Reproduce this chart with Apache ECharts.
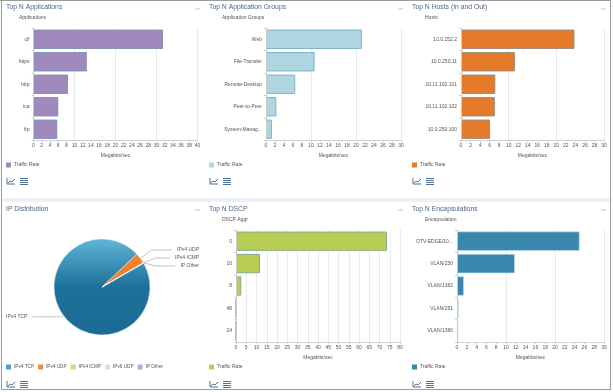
<!DOCTYPE html>
<html>
<head>
<meta charset="utf-8">
<title>Dashboard</title>
<script src="https://cdn.jsdelivr.net/npm/echarts@6/dist/echarts.min.js"></script>
<style>
  html, body { margin: 0; padding: 0; background: #fff; }
  #page { position: relative; width: 613px; height: 392px; overflow: hidden; background: #fff; }
  #page .panel { position: absolute; }
  .rule { position: absolute; background: #9b9b9b; }
  #strip { position: absolute; left: 2px; top: 198px; width: 608px; height: 4px; background: #edf2f6; }
</style>
</head>
<body>
<div id="page">
  <div id="strip"></div>
  <div class="panel" id="p1" style="left:2px;top:2px;width:203px;height:195px"></div>
  <div class="panel" id="p2" style="left:205px;top:2px;width:203px;height:195px"></div>
  <div class="panel" id="p3" style="left:408px;top:2px;width:202px;height:195px"></div>
  <div class="panel" id="p4" style="left:2px;top:203px;width:203px;height:186px"></div>
  <div class="panel" id="p5" style="left:205px;top:203px;width:203px;height:186px"></div>
  <div class="panel" id="p6" style="left:408px;top:203px;width:202px;height:186px"></div>
  <div class="rule" style="left:0;top:0;width:611px;height:1px"></div>
  <div class="rule" style="left:1px;top:0;width:1px;height:390px"></div>
  <div class="rule" style="left:610px;top:0;width:1px;height:390px"></div>
  <div class="rule" style="left:1px;top:389px;width:610px;height:1px"></div>
</div>
<script>
// values, Megabits/sec
var appNames = ['cif', 'https', 'http', 'ica', 'ftp'];
var appValues = [31.6, 13, 8.4, 6.05, 5.8];
var groupNames = ['Web', 'File-Transfer', 'Remote-Desktop', 'Peer-to-Peer', 'System-Manag...'];
var groupValues = [21.3, 10.8, 6.5, 2.3, 1.3];
var hostNames = ['10.0.252.2', '10.0.250.11', '10.11.102.101', '10.11.102.102', '10.0.250.100'];
var hostValues = [23.8, 11.3, 7.2, 7.1, 6.1];
var dscpNames = ['0', '16', '8', '48', '24'];
var dscpValues = [73.7, 11.7, 2.6, 0.05, 0.02];
var encapNames = ['OTV-EDGE/10...', 'VLAN/250', 'VLAN/1382', 'VLAN/251', 'VLAN/1380'];
var encapValues = [25, 11.8, 1.4, 0.3, 0.25];
var ipNames = ['IPv4 TCP', 'IPv4 UDP', 'IPv4 ICMP', 'IPv6 UDP', 'IP Other'];
var ipValues = [96.3, 3.6, 0.03, 0, 0.03];
var ipColors = ['#4fa3c7', '#f58a3c', '#c9dd72', '#dedede', '#b9a7d8'];

var FONT = '"Liberation Sans", Arial, sans-serif';
var TITLE_COLOR = '#4d6787';
var TEXT_COLOR = '#555';

// little line-chart and table icons under the legend, plus the minimize dash
function panelIcons(x, y, dashX) {
  var items = [
    { type: 'polyline', shape: { points: [[x, y], [x, y + 6], [x + 8, y + 6]] }, style: { stroke: '#52708f', fill: null } },
    { type: 'polyline', shape: { points: [[x + 1, y + 5], [x + 3, y + 3], [x + 5, y + 4], [x + 8, y + 1]] }, style: { stroke: '#52708f', fill: null } },
    { type: 'line', shape: { x1: dashX, y1: 7, x2: dashX + 5, y2: 7 }, style: { stroke: '#c4c4c4', lineWidth: 1 } }
  ];
  for (var i = 0; i < 4; i++) {
    var ly = y + i * 2 + 0.5;
    items.push({ type: 'line', shape: { x1: x + 13, y1: ly, x2: x + 21, y2: ly }, style: { stroke: '#52708f', lineWidth: 1 } });
  }
  return items;
}

function titles(title, sub, left, top) {
  return [
    { text: title, left: left, top: top, padding: 0, textStyle: { color: TITLE_COLOR, fontSize: 6.8, fontWeight: 'normal', fontFamily: FONT } },
    { text: sub, left: left + 13, top: top + 11.5, padding: 0, textStyle: { color: TEXT_COLOR, fontSize: 5, fontWeight: 'normal', fontFamily: FONT } }
  ];
}

function barChart(id, cfg) {
  var chart = echarts.init(document.getElementById(id));
  chart.setOption({
    animation: false,
    title: titles(cfg.title, cfg.sub, cfg.titleLeft, cfg.titleTop),
    legend: {
      left: cfg.titleLeft, top: cfg.legendTop, padding: 0, icon: 'rect', itemWidth: 5, itemHeight: 5,
      itemStyle: { borderWidth: 0 },
      textStyle: { fontSize: 5, color: TEXT_COLOR, fontFamily: FONT, padding: [0, 0, 0, -2] },
      data: ['Traffic Rate']
    },
    grid: cfg.grid,
    xAxis: [{
      type: 'value', min: 0, max: cfg.max, interval: cfg.step,
      name: 'Megabits/sec', nameLocation: 'center', nameGap: 13,
      nameTextStyle: { fontSize: 5, color: TEXT_COLOR, fontFamily: FONT },
      axisLine: { show: true, lineStyle: { color: '#cfd3d8' } },
      axisTick: { show: true, length: 2, lineStyle: { color: '#cfd3d8' } },
      axisLabel: { fontSize: 5, margin: 3, color: TEXT_COLOR, fontFamily: FONT },
      splitLine: { show: false }
    }, {
      // second axis only for the sparser grid lines
      type: 'value', min: 0, max: cfg.max, interval: cfg.gridStep, position: 'bottom',
      axisLine: { show: false }, axisTick: { show: false }, axisLabel: { show: false },
      splitLine: { show: true, lineStyle: { color: '#e8eaed' } }
    }],
    yAxis: {
      type: 'category', inverse: true, data: cfg.names, z: 3,
      axisLine: { show: true, lineStyle: { color: '#c8ccd1' } },
      axisTick: { show: true, length: 2, lineStyle: { color: '#cfd3d8' } },
      axisLabel: { fontSize: 5, margin: 4, color: TEXT_COLOR, fontFamily: FONT, interval: 0 }
    },
    series: [{
      name: 'Traffic Rate', type: 'bar', data: cfg.values, xAxisIndex: 0,
      barCategoryGap: '14%',
      itemStyle: { color: cfg.color, borderColor: cfg.border, borderWidth: cfg.borderWidth || 1 }
    }],
    graphic: panelIcons(cfg.iconX, cfg.iconY, cfg.dashX)
  });
}

barChart('p1', { title: 'Top N Applications', sub: 'Applications', titleLeft: 4, titleTop: 2, names: appNames, values: appValues, max: 40, step: 2, gridStep: 10,
  grid: { left: 31.5, right: 7.5, top: 26, height: 112.5 }, color: '#a08abd', border: '#7f90b9', legendTop: 160.5, iconX: 5, iconY: 176, dashX: 193 });
barChart('p2', { title: 'Top N Application Groups', sub: 'Application Groups', titleLeft: 4, titleTop: 2, names: groupNames, values: groupValues, max: 30, step: 2, gridStep: 10,
  grid: { left: 61, right: 7, top: 26, height: 112.5 }, color: '#aed6e1', border: '#7db4c4', legendTop: 160.5, iconX: 5, iconY: 176, dashX: 193 });
barChart('p3', { title: 'Top N Hosts (In and Out)', sub: 'Hosts', titleLeft: 4, titleTop: 2, names: hostNames, values: hostValues, max: 30, step: 2, gridStep: 10,
  grid: { left: 53, right: 6, top: 26, height: 112.5 }, color: '#e67a2b', border: '#9c8c7e', legendTop: 160.5, iconX: 5, iconY: 176, dashX: 193 });
barChart('p5', { title: 'Top N DSCP', sub: 'DSCP Aggr', titleLeft: 4, titleTop: 2.5, names: dscpNames, values: dscpValues, max: 80, step: 5, gridStep: 5,
  grid: { left: 31, right: 8, top: 27, height: 112 }, color: '#b7cd54', border: '#86ad8a', legendTop: 161.5, iconX: 5, iconY: 178, dashX: 193 });
barChart('p6', { title: 'Top N Encapsulations', sub: 'Encapsulation', titleLeft: 4, titleTop: 2.5, names: encapNames, values: encapValues, max: 30, step: 2, gridStep: 10,
  grid: { left: 49, right: 6, top: 27, height: 112 }, color: '#3a87ad', border: '#bfe2ee', borderWidth: 0.6, legendTop: 161.5, iconX: 5, iconY: 178, dashX: 193 });

// IP Distribution pie
var pieData = ipNames.map(function (name, i) {
  var item = { name: name, value: ipValues[i], itemStyle: { color: ipColors[i] }, label: { edgeDistance: 6 } };
  if (i === 0) {
    item.label = { edgeDistance: 4 };
    item.labelLine = { length: 2 };
    item.itemStyle.color = new echarts.graphic.LinearGradient(0, 0, 0, 1, [
      { offset: 0, color: '#5fb6d6' }, { offset: 0.5, color: '#1d7099' }, { offset: 1, color: '#1a6c95' }
    ]);
  }
  if (i === 1) {
    item.itemStyle.color = '#f0812f';
  }
  if (i === 3) {
    item.label = { show: false };
    item.labelLine = { show: false };
  }
  return item;
});

var pie = echarts.init(document.getElementById('p4'));
pie.setOption({
  animation: false,
  title: { text: 'IP Distribution', left: 4, top: 2.5, padding: 0, textStyle: { color: TITLE_COLOR, fontSize: 6.8, fontWeight: 'normal', fontFamily: FONT } },
  legend: {
    left: 4, top: 161.5, padding: 0, icon: 'rect', itemWidth: 5, itemHeight: 5, itemGap: 4,
    textStyle: { fontSize: 4.7, color: TEXT_COLOR, fontFamily: FONT, padding: [0, 0, 0, -2] },
    data: ipNames.map(function (name, i) { return { name: name, itemStyle: { color: ipColors[i], borderWidth: 0 } }; })
  },
  series: [{
    type: 'pie', center: [100, 84], radius: [0, 48], startAngle: 30, clockwise: true,
    data: pieData,
    label: { fontSize: 5, color: TEXT_COLOR, fontFamily: FONT, lineHeight: 6, padding: 0, overflow: 'none', alignTo: 'edge', edgeDistance: 4 },
    labelLine: { length: 14, lineStyle: { color: '#aaa', width: 0.7 } },
    itemStyle: { borderColor: '#e6f1f5', borderWidth: 0.5 },
    emphasis: { disabled: true }
  }],
  graphic: panelIcons(5, 178, 193)
});
</script>
</body>
</html>
